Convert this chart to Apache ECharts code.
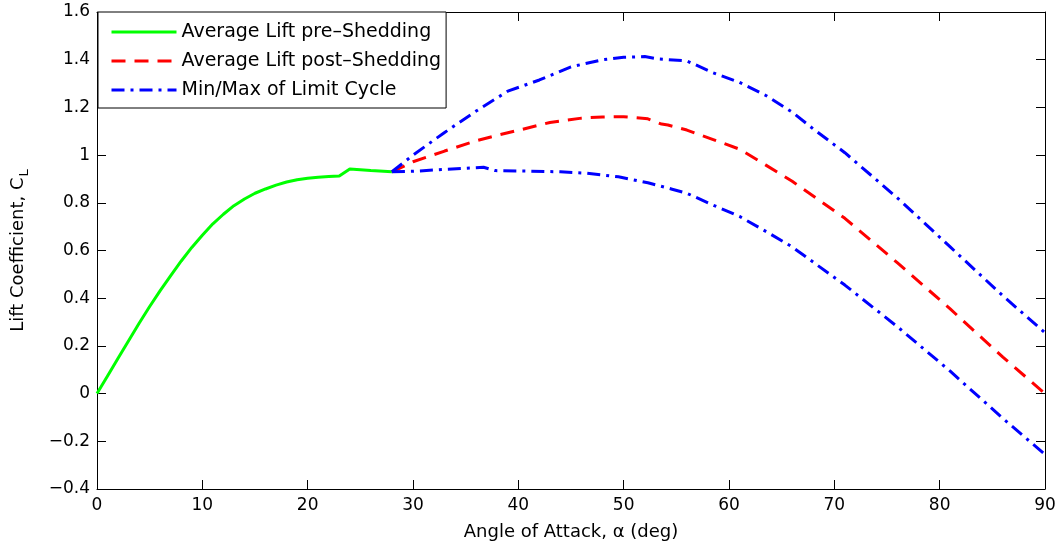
<!DOCTYPE html>
<html>
<head>
<meta charset="utf-8">
<script src="https://cdn.jsdelivr.net/npm/echarts@6/dist/echarts.min.js"></script>
<style>
html,body{margin:0;padding:0;background:#fff;}
#chart{width:1058px;height:548px;}
</style>
</head>
<body>
<div id="chart"></div>
<script>
// ---- data ----
const preAngle = [0, 1, 2, 3, 4, 5, 6, 7, 8, 9, 10, 11, 12, 13, 14, 15, 16, 17, 18, 19, 20, 21, 22, 23, 24, 26, 28];
const preLift  = [0, 0.074, 0.148, 0.222, 0.295, 0.365, 0.432, 0.495, 0.556, 0.613, 0.664, 0.712, 0.752, 0.788, 0.816, 0.840, 0.858, 0.874, 0.887, 0.897, 0.903, 0.907, 0.91, 0.912, 0.942, 0.935, 0.93];

const postAngle = [28, 30, 33, 36, 38, 40, 43, 46, 48, 50, 52.3, 53.6, 54.2, 56, 58.5, 61, 63.5, 66, 71, 76, 81, 86, 90];
const postLift  = [0.93, 0.972, 1.017, 1.06, 1.083, 1.104, 1.137, 1.155, 1.16, 1.161, 1.152, 1.13, 1.126, 1.105, 1.065, 1.025, 0.958, 0.89, 0.735, 0.548, 0.355, 0.153, 0.0];

const maxAngle = [28, 30, 33, 36, 39, 42, 45, 48, 50, 52, 53.3, 56, 58.5, 61, 63.5, 66, 68, 71, 76, 81, 86, 90];
const maxLift  = [0.93, 1.0, 1.095, 1.185, 1.268, 1.315, 1.37, 1.40, 1.41, 1.413, 1.403, 1.395, 1.345, 1.305, 1.25, 1.18, 1.11, 1.01, 0.82, 0.615, 0.41, 0.255];

const minAngle = [28, 30, 33, 36.7, 37.8, 41, 44, 46.5, 49.5, 52.3, 54.6, 56, 58.5, 61, 63.5, 66, 71, 76, 81, 86, 90];
const minLift  = [0.93, 0.932, 0.94, 0.949, 0.935, 0.933, 0.93, 0.924, 0.909, 0.884, 0.857, 0.84, 0.79, 0.743, 0.68, 0.615, 0.455, 0.28, 0.094, -0.104, -0.255];

const xTickLabels = ['0','10','20','30','40','50','60','70','80','90'];
const yTickLabels = ['\u22120.4','\u22120.2','0','0.2','0.4','0.6','0.8','1','1.2','1.4','1.6'];

const seriesNames = ['Average Lift pre\u2013Shedding', 'Average Lift post\u2013Shedding', 'Min/Max of Limit Cycle'];

// ---- chart ----
const pairs = (xs, ys) => xs.map((x, i) => [x, ys[i]]);
const FONT = 'DejaVu Sans';

const chart = echarts.init(document.getElementById('chart'), null, {renderer: 'canvas'});

const tickCommon = {show: true, inside: true, length: 9, lineStyle: {color: '#000', width: 1}};
const lineCommon = {show: true, onZero: false, lineStyle: {color: '#000', width: 1}};

chart.setOption({
  animation: false,
  backgroundColor: '#fff',
  grid: {left: 97, right: 13, top: 12, bottom: 59, containLabel: false, outerBoundsMode: 'none'},
  legend: {
    orient: 'vertical',
    left: 98, top: 12,
    padding: [9, 5, 7, 12],
    itemWidth: 65, itemHeight: 14, itemGap: 7,
    backgroundColor: '#fff',
    borderColor: '#000', borderWidth: 1, borderRadius: 0,
    itemStyle: {opacity: 0},
    lineStyle: {width: 3},
    textStyle: {fontFamily: FONT, fontSize: 19, color: '#000', lineHeight: 22},
    data: seriesNames
  },
  xAxis: [
    {
      type: 'value', min: 0, max: 90, interval: 10, position: 'bottom',
      axisLine: lineCommon, axisTick: tickCommon, splitLine: {show: false},
      axisLabel: {
        fontFamily: FONT, fontSize: 17, color: '#000', margin: 8,
        formatter: v => xTickLabels[Math.round(v / 10)]
      },
      name: 'Angle of Attack, \u03b1 (deg)', nameLocation: 'middle', nameGap: 34,
      nameTextStyle: {fontFamily: FONT, fontSize: 18, color: '#000'}
    },
    {
      type: 'value', min: 0, max: 90, interval: 10, position: 'top',
      axisLine: lineCommon, axisTick: tickCommon, splitLine: {show: false},
      axisLabel: {show: false}
    }
  ],
  yAxis: [
    {
      type: 'value', min: -0.4, max: 1.6, interval: 0.2, position: 'left',
      axisLine: lineCommon, axisTick: tickCommon, splitLine: {show: false},
      axisLabel: {
        fontFamily: FONT, fontSize: 17, color: '#000', margin: 7,
        formatter: v => yTickLabels[Math.round((v + 0.4) / 0.2)]
      },
      name: 'Lift Coefficient, C{sub|L}', nameLocation: 'middle', nameGap: 66,
      nameTextStyle: {
        fontFamily: FONT, fontSize: 18, color: '#000',
        rich: {sub: {fontFamily: FONT, fontSize: 13, color: '#000', padding: [12, 0, 0, 1]}}
      }
    },
    {
      type: 'value', min: -0.4, max: 1.6, interval: 0.2, position: 'right',
      axisLine: lineCommon, axisTick: tickCommon, splitLine: {show: false},
      axisLabel: {show: false}
    }
  ],
  series: [
    {
      name: seriesNames[0], type: 'line', xAxisIndex: 0, yAxisIndex: 0,
      showSymbol: false, symbol: 'none',
      lineStyle: {color: '#00ff00', width: 3, type: 'solid'},
      itemStyle: {color: '#00ff00'},
      data: pairs(preAngle, preLift)
    },
    {
      name: seriesNames[1], type: 'line', xAxisIndex: 0, yAxisIndex: 0,
      showSymbol: false, symbol: 'none',
      lineStyle: {color: '#ff0000', width: 3, type: [14, 9]},
      itemStyle: {color: '#ff0000'},
      data: pairs(postAngle, postLift)
    },
    {
      name: seriesNames[2], type: 'line', xAxisIndex: 0, yAxisIndex: 0,
      showSymbol: false, symbol: 'none',
      lineStyle: {color: '#0000ff', width: 3, type: [13, 6, 3, 6]},
      itemStyle: {color: '#0000ff'},
      data: pairs(maxAngle, maxLift)
    },
    {
      name: seriesNames[2], type: 'line', xAxisIndex: 0, yAxisIndex: 0,
      showSymbol: false, symbol: 'none',
      lineStyle: {color: '#0000ff', width: 3, type: [13, 6, 3, 6]},
      itemStyle: {color: '#0000ff'},
      data: pairs(minAngle, minLift)
    }
  ]
});
</script>
</body>
</html>
